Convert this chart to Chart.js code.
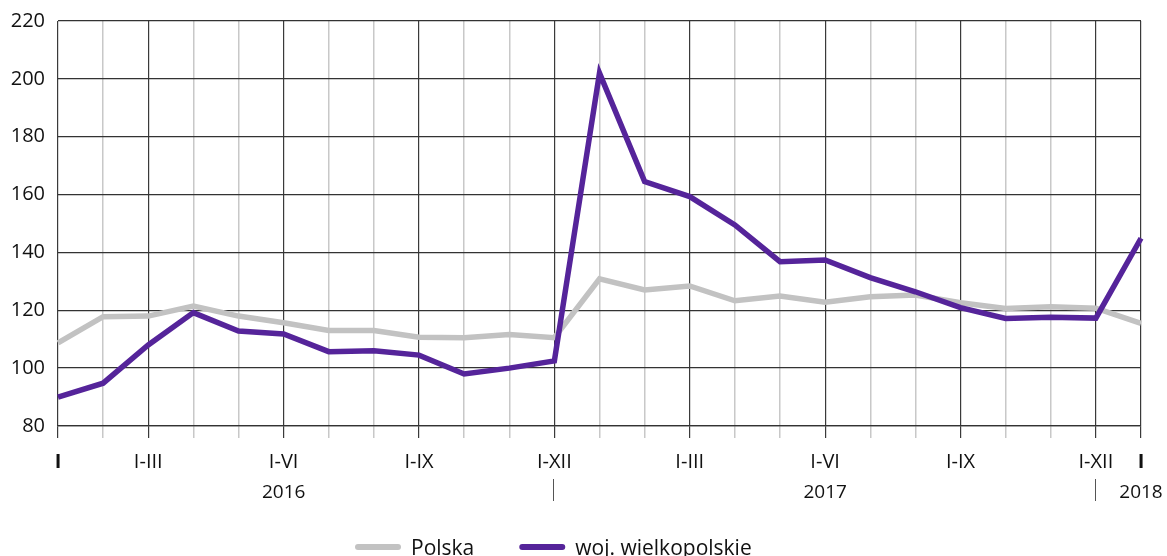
<!DOCTYPE html>
<html>
<head>
<meta charset="utf-8">
<script src="https://cdn.jsdelivr.net/npm/chart.js@4.4.1/dist/chart.umd.min.js"></script>
<style>
  html, body { margin: 0; padding: 0; background: #fff; }
  #wrap { width: 1167px; height: 556px; }
</style>
</head>
<body>
<div id="wrap"><canvas id="myChart" width="1167" height="556"></canvas></div>
<script>
/* global Chart */
var months = ['I 2016', 'II 2016', 'III 2016', 'IV 2016', 'V 2016', 'VI 2016', 'VII 2016', 'VIII 2016', 'IX 2016', 'X 2016', 'XI 2016', 'XII 2016',
  'I 2017', 'II 2017', 'III 2017', 'IV 2017', 'V 2017', 'VI 2017', 'VII 2017', 'VIII 2017', 'IX 2017', 'X 2017', 'XI 2017', 'XII 2017', 'I 2018']
var tickLabels = ['I', '', 'I-III', '', '', 'I-VI', '', '', 'I-IX', '', '', 'I-XII',
  '', '', 'I-III', '', '', 'I-VI', '', '', 'I-IX', '', '', 'I-XII', 'I']
var years = ['2016', '2017', '2018']
var yearAt = [5, 17, 24]
var yearBreaks = [11, 23]

var polska = [108.7, 117.8, 118, 121.5, 118, 115.7, 113, 113, 110.7, 110.5, 111.6, 110.5,
  130.9, 127, 128.4, 123.3, 124.9, 122.8, 124.7, 125.3, 122.6, 120.6, 121.2, 120.7, 115.5]
var wielkopolskie = [90, 94.8, 108, 119.2, 112.8, 111.8, 105.7, 106, 104.5, 98, 100, 102.5,
  202, 164.5, 159.3, 149.5, 136.8, 137.4, 131.3, 126.4, 120.9, 117.2, 117.6, 117.3, 144.9]

var FONT = '"Open Sans", "Noto Sans", sans-serif'
var GREY = '#c2c2c2'
var PURPLE = '#55249a'

// years under the axis, breaks and the legend
var extraLabels = {
  id: 'extraLabels',
  afterDraw: function (chart) {
    var ctx = chart.ctx
    var x = chart.scales.x
    ctx.save()
    ctx.font = '19px ' + FONT
    ctx.fillStyle = '#111'
    ctx.textAlign = 'center'
    ctx.textBaseline = 'middle'
    years.forEach(function (y, i) {
      ctx.fillText(y, x.getPixelForValue(yearAt[i]), 493)
    })
    ctx.strokeStyle = '#555'
    ctx.lineWidth = 1
    yearBreaks.forEach(function (i) {
      var px = Math.round(x.getPixelForValue(i)) - 0.5
      ctx.beginPath()
      ctx.moveTo(px, 479)
      ctx.lineTo(px, 501)
      ctx.stroke()
    })

    // legend
    var items = chart.data.datasets
    var cx = 358
    ctx.font = '21px ' + FONT
    ctx.textAlign = 'left'
    ctx.textBaseline = 'alphabetic'
    ctx.lineCap = 'round'
    ctx.lineWidth = 6
    items.forEach(function (ds) {
      ctx.strokeStyle = ds.borderColor
      ctx.beginPath()
      ctx.moveTo(cx, 547)
      ctx.lineTo(cx + 40, 547)
      ctx.stroke()
      cx += 53
      ctx.fillText(ds.label, cx, 555)
      cx += ctx.measureText(ds.label).width + 48
    })
    ctx.restore()
  }
}

var ctx = document.getElementById('myChart')
var myLineChart = new Chart(ctx, {
  type: 'line',
  data: {
    labels: months,
    datasets: [
      {
        label: 'Polska',
        data: polska,
        borderColor: GREY,
        backgroundColor: GREY,
        borderWidth: 5.5,
        pointRadius: 0,
        tension: 0,
        clip: false,
        order: 1
      },
      {
        label: 'woj. wielkopolskie',
        data: wielkopolskie,
        borderColor: PURPLE,
        backgroundColor: PURPLE,
        borderWidth: 5.5,
        pointRadius: 0,
        tension: 0,
        clip: false,
        order: 0
      }
    ]
  },
  options: {
    responsive: false,
    animation: false,
    layout: { padding: { top: 21, right: 26, bottom: 0, left: 0 } },
    plugins: {
      legend: { display: false },
      tooltip: { enabled: false }
    },
    scales: {
      x: {
        offset: false,
        afterFit: function (scale) { scale.height = 130 },
        grid: {
          color: function (c) { return tickLabels[c.index] ? '#3a3a3a' : '#c8c8c8' },
          lineWidth: function (c) { return tickLabels[c.index] ? 1.2 : 1.5 },
          tickLength: 12
        },
        border: { display: true, color: '#333', width: 1.3 },
        ticks: {
          autoSkip: false,
          maxRotation: 0,
          padding: 12,
          color: '#111',
          font: function (c) {
            return { family: FONT, size: 20, weight: tickLabels[c.index] === 'I' ? 'bold' : 'normal' }
          },
          callback: function (v, i) { return tickLabels[i] }
        }
      },
      y: {
        min: 80,
        max: 220,
        afterFit: function (scale) { scale.width = 58 },
        // invisible tick marks keep the labels off the axis without adding top padding
        grid: { color: '#333', lineWidth: 1.3, drawTicks: true, tickLength: 10, tickColor: 'rgba(0,0,0,0)' },
        border: { display: false },
        ticks: {
          stepSize: 20,
          padding: 3,
          color: '#111',
          font: { family: FONT, size: 20 }
        }
      }
    }
  },
  plugins: [extraLabels]
})
</script>
</body>
</html>
